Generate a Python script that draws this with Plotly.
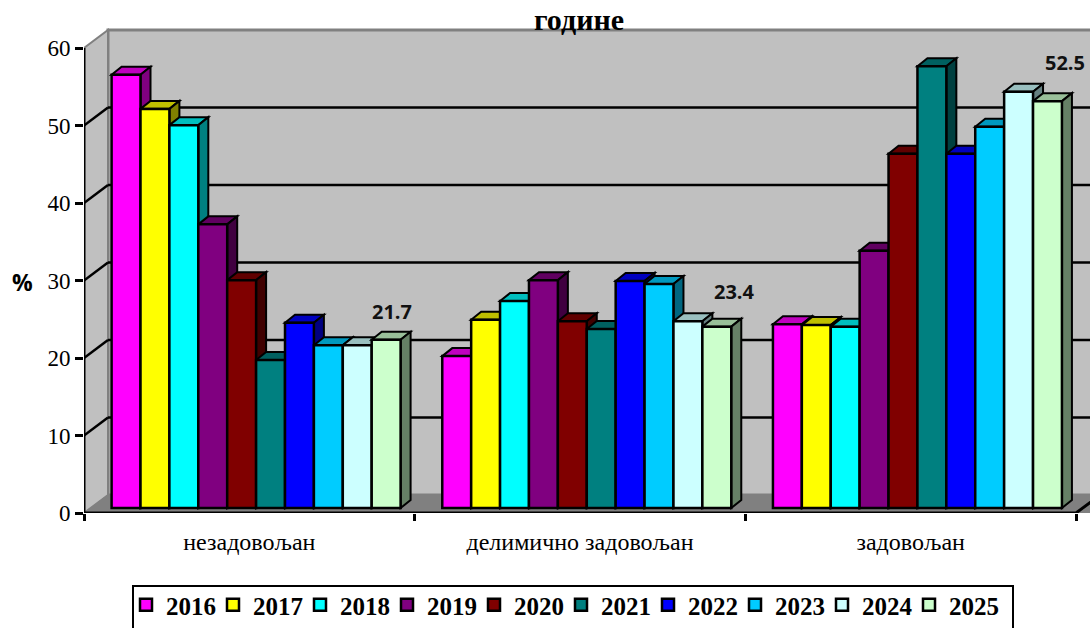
import plotly.graph_objects as go

categories = ["незадовољан", "делимично задовољан", "задовољан"]
years = ["2016", "2017", "2018", "2019", "2020", "2021", "2022", "2023", "2024", "2025"]
v2016 = [55.9, 19.6, 23.7]
v2017 = [51.5, 24.3, 23.6]
v2018 = [49.4, 26.7, 23.4]
v2019 = [36.6, 29.4, 33.2]
v2020 = [29.4, 24.1, 45.7]
v2021 = [19.1, 23.1, 57.0]
v2022 = [23.9, 29.3, 45.7]
v2023 = [21.0, 28.9, 49.2]
v2024 = [21.0, 24.1, 53.7]
v2025 = [21.7, 23.4, 52.5]
series = [v2016, v2017, v2018, v2019, v2020, v2021, v2022, v2023, v2024, v2025]
yticks = [0, 10, 20, 30, 40, 50, 60]

colors = [(255, 0, 255), (255, 255, 0), (0, 255, 255), (128, 0, 128), (128, 0, 0),
          (0, 128, 128), (0, 0, 255), (0, 204, 255), (204, 255, 255), (204, 255, 204)]

W, H = 1090, 628
ML, MR, MT, MB = 84, 0, 28, 115
PX_PER_CAT = 330.67
PX_PER_UNIT = 7.75
xmax = (W - ML - MR) / PX_PER_CAT
ymax = (H - MT - MB) / PX_PER_UNIT


def dx(px):
    return px / PX_PER_CAT


def dy(px):
    return px / PX_PER_UNIT


def paper_x(px):
    return (px - ML) / (W - ML - MR)


def paper_y(px):
    return (H - MB - px) / (H - MT - MB)


WALL_X, WALL_Y = dx(24), dy(18)
DEP_X, DEP_Y = dx(10), dy(8)
BASE = dy(5)
BAR_W = dx(28.9)
GROUP_OFF = dx(27.6)


def shade(c, f):
    return "rgb(%d,%d,%d)" % tuple(round(v * f) for v in c)


def poly(pts):
    return "M" + " L".join(f"{x:.5f},{y:.4f}" for x, y in pts) + " Z"


def path_shape(pts, fill, line="black", lw=2):
    return dict(type="path", path=poly(pts), xref="x", yref="y", layer="below",
                fillcolor=fill, line=dict(color=line, width=lw))


GRAY = "#C0C0C0"
EDGE = "#808080"
shapes = []
# back wall, left wall, floor
shapes.append(path_shape([(WALL_X, WALL_Y), (WALL_X, 60 + WALL_Y), (xmax + 1, 60 + WALL_Y), (xmax + 1, WALL_Y)], GRAY, EDGE, 3))
shapes.append(path_shape([(0, 0), (0, 60), (WALL_X, 60 + WALL_Y), (WALL_X, WALL_Y)], GRAY, EDGE, 2))
shapes.append(path_shape([(0, 0), (WALL_X, WALL_Y), (xmax + 1, WALL_Y), (xmax + 1, 0)], EDGE, EDGE, 1))
# gridlines
for t in yticks[1:-1]:
    shapes.append(dict(type="line", xref="x", yref="y", layer="below", x0=0, y0=t, x1=WALL_X, y1=t + WALL_Y,
                       line=dict(color="black", width=2.5)))
    shapes.append(dict(type="line", xref="x", yref="y", layer="below", x0=WALL_X, y0=t + WALL_Y, x1=xmax + 1, y1=t + WALL_Y,
                       line=dict(color="black", width=2.5)))

bar_x = []
for j in range(len(years)):
    bar_x.append([i + GROUP_OFF + (j + 0.5) * BAR_W for i in range(len(categories))])

# 3D faces, left to right, computed from the values
for i in range(len(categories)):
    for j, vals in enumerate(series):
        xl = bar_x[j][i] - BAR_W / 2
        xr = bar_x[j][i] + BAR_W / 2
        top = vals[i] + BASE
        shapes.append(path_shape([(xl, top), (xl + DEP_X, top + DEP_Y), (xr + DEP_X, top + DEP_Y), (xr, top)],
                                 shade(colors[j], 0.75)))
        shapes.append(path_shape([(xr, BASE), (xr, top), (xr + DEP_X, top + DEP_Y), (xr + DEP_X, BASE + DEP_Y)],
                                 shade(colors[j], 0.5)))

# legend frame (its lower edge falls just below the picture, as in the reference)
shapes.append(dict(type="rect", xref="paper", yref="paper", x0=paper_x(133), x1=paper_x(1013),
                   y0=paper_y(632), y1=paper_y(586), line=dict(color="black", width=2), fillcolor="white", layer="below"))

fig = go.Figure()
for j, vals in enumerate(series):
    fig.add_trace(go.Bar(
        x=bar_x[j], y=vals, base=BASE, width=BAR_W, name=years[j],
        marker=dict(color=shade(colors[j], 1), line=dict(color="black", width=2.5)),
    ))

# axis lines
fig.add_trace(go.Scatter(x=[0, 0, len(categories), len(categories) + WALL_X], y=[60, 0, 0, WALL_Y], mode="lines",
                         line=dict(color="black", width=3), cliponaxis=False, showlegend=False, hoverinfo="skip"))

# blank legend entry: keeps room so the last year's label is not clipped by the fixed entry width
fig.add_trace(go.Scatter(x=[None], y=[None], mode="lines", name=" ", line=dict(color="rgba(0,0,0,0)"),
                         hoverinfo="skip"))

# data labels for the last series
label_off_x = [6, 18, 18]
label_off_y = [28, 35, 39]
annotations = []
for i in range(len(categories)):
    annotations.append(dict(
        x=bar_x[9][i] + dx(label_off_x[i]), y=v2025[i] + BASE + dy(label_off_y[i]),
        xref="x", yref="y", text=f"<b>{v2025[i]}</b>", showarrow=False,
        font=dict(family="Open Sans", size=20, color="#111111"), xanchor="center", yanchor="middle"))
annotations.append(dict(x=paper_x(22), y=paper_y(282), xref="paper", yref="paper", text="<b>%</b>", showarrow=False,
                        font=dict(family="Open Sans", size=23, color="black"), xanchor="center", yanchor="middle"))

fig.update_layout(
    width=W, height=H,
    margin=dict(l=ML, r=MR, t=MT, b=MB, pad=0),
    paper_bgcolor="white", plot_bgcolor="white",
    barmode="overlay",
    title=dict(text="<b>године</b>", x=579 / W, xanchor="center", y=1 - 19 / H, yanchor="middle",
               font=dict(family="Liberation Serif", size=30, color="black")),
    xaxis=dict(range=[0, xmax], tickmode="array",
               tickvals=[i + 0.5 for i in range(len(categories))], ticktext=categories,
               ticks="outside", ticklen=7, tickcolor="rgba(0,0,0,0)", tickwidth=1,
               tickfont=dict(family="Liberation Serif", size=24, color="black"),
               showgrid=False, zeroline=False, showline=False,
               minor=dict(tickmode="array", tickvals=list(range(len(categories) + 1)), ticks="outside",
                          ticklen=7, tickwidth=3, tickcolor="black", showgrid=False)),
    yaxis=dict(range=[0, ymax], tickmode="array", tickvals=yticks, ticks="outside", ticklen=8, tickwidth=3,
               tickcolor="black", tickfont=dict(family="Liberation Serif", size=23, color="black"),
               showgrid=False, zeroline=False, showline=False),
    legend=dict(orientation="h", x=126 / W, xanchor="left", y=1 - 582 / H, yanchor="top",
                yref="container", xref="container",
                entrywidth=42, entrywidthmode="pixels", itemwidth=30, tracegroupgap=0,
                bgcolor="rgba(0,0,0,0)", borderwidth=0,
                font=dict(family="Liberation Serif", size=25, color="black", weight="bold")),
    showlegend=True,
    shapes=shapes, annotations=annotations,
)

fig.write_html("out.html", post_script="document.body.style.margin='0';",
               config=dict(displayModeBar=False))
